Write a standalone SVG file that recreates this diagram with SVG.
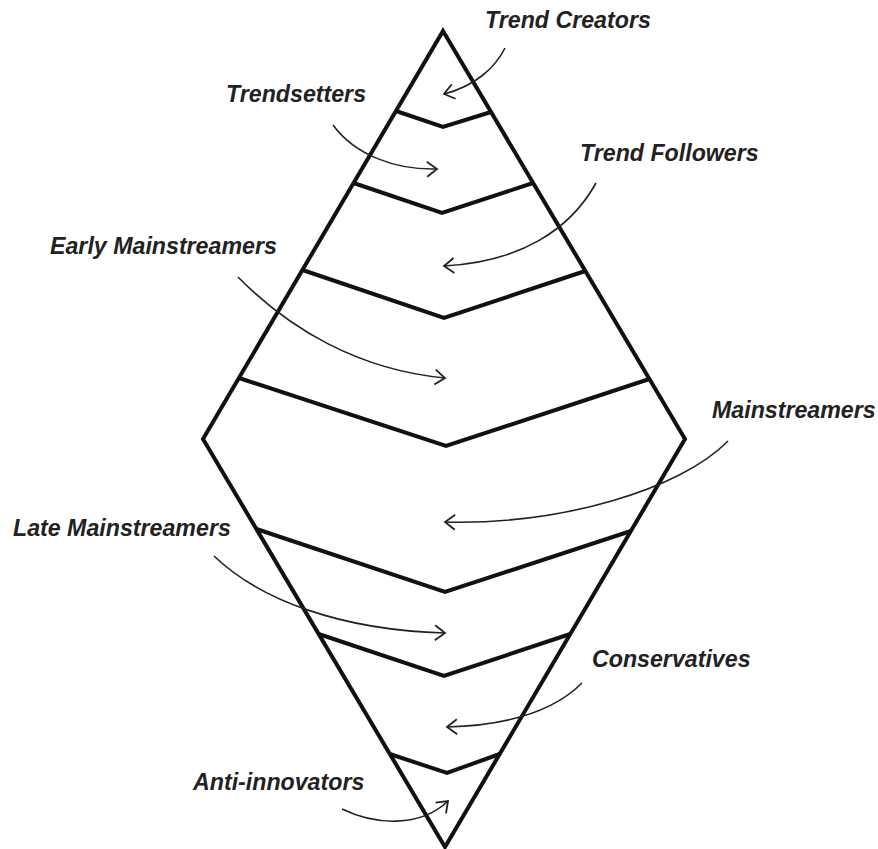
<svg xmlns="http://www.w3.org/2000/svg" width="878" height="849" viewBox="0 0 878 849">
<style>
.frame{fill:none;stroke:#111;stroke-width:4;stroke-linejoin:miter}
.band{fill:none;stroke:#111;stroke-width:4;stroke-linejoin:miter}
.arr{fill:none;stroke:#222;stroke-width:1.6;marker-end:url(#ah)}
.lbl{font-family:"Liberation Sans",Arial,sans-serif;font-weight:bold;font-style:italic;font-size:23.2px;fill:#222}
</style>
<defs>
<marker id="ah" markerUnits="userSpaceOnUse" markerWidth="14" markerHeight="20" viewBox="-1 -10 12 20" refX="10" refY="0" orient="auto">
<path d="M0,-7.5 L10,0 L0,7.5" fill="none" stroke="#222" stroke-width="1.8"/>
</marker>
</defs>
<rect width="878" height="849" fill="#fff"/>
<g id="diamond">
<polygon class="frame" points="443,31 685,439 445,847 203,439"/>
</g>
<g id="band-trend-creators">
<polyline class="band" points="396,111 443,127 491,112"/>
<text class="lbl" x="485" y="28">Trend Creators</text>
</g>
<g id="band-trendsetters">
<polyline class="band" points="353.6,183 442,213 533,183"/>
<text class="lbl" x="226" y="102">Trendsetters</text>
</g>
<g id="band-trend-followers">
<polyline class="band" points="302.5,270 444,318 585.3,271"/>
<text class="lbl" x="580" y="161">Trend Followers</text>
</g>
<g id="band-early-mainstreamers">
<polyline class="band" points="239,378 446,446 649.4,379"/>
<text class="lbl" x="50" y="254">Early Mainstreamers</text>
</g>
<g id="band-mainstreamers">
<polyline class="band" points="256.4,529 445,592 631,531"/>
<text class="lbl" x="712" y="418">Mainstreamers</text>
</g>
<g id="band-late-mainstreamers">
<polyline class="band" points="318.6,634 444,676 570.3,634"/>
<text class="lbl" x="13" y="536">Late Mainstreamers</text>
</g>
<g id="band-conservatives">
<polyline class="band" points="389.8,754 447,773 499.8,754"/>
<text class="lbl" x="592" y="667">Conservatives</text>
</g>
<g id="band-anti-innovators">
<text class="lbl" x="193" y="790">Anti-innovators</text>
</g>
<g id="connectors">
<path class="arr" d="M505,48 C495,68 475,86 444,94"/>
<path class="arr" d="M333,125 C355,155 395,170 437,169"/>
<path class="arr" d="M596,183 C570,230 520,262 444,266"/>
<path class="arr" d="M238,277 C290,330 360,370 445,378"/>
<path class="arr" d="M728,441 C680,490 560,525 445,522"/>
<path class="arr" d="M214,556 C260,600 340,630 445,633"/>
<path class="arr" d="M582,683 C560,705 520,725 447,727"/>
<path class="arr" d="M342,809 C375,825 420,828 448,801"/>
</g>
</svg>
